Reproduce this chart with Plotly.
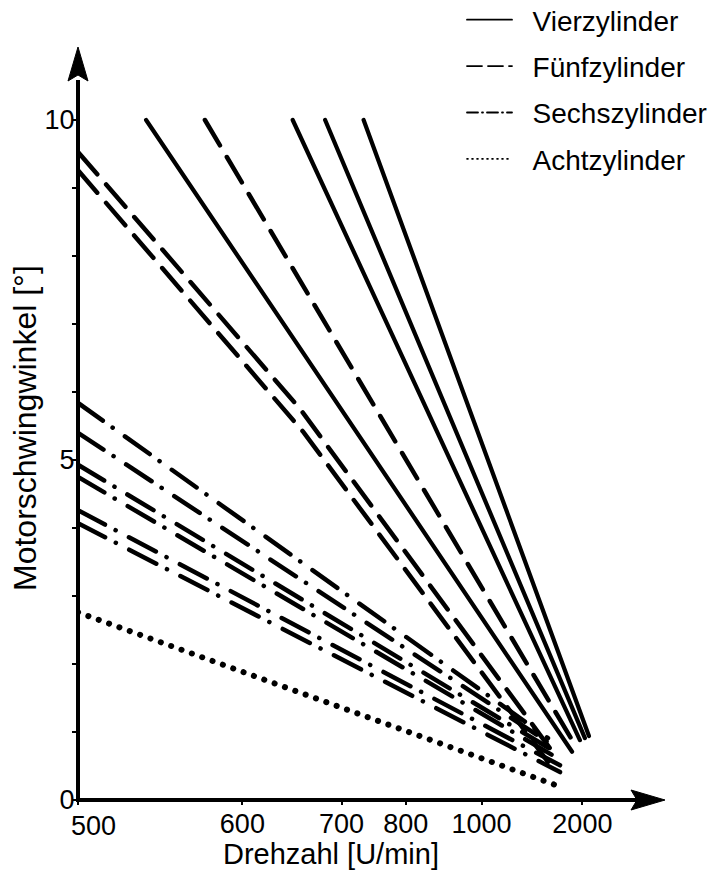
import plotly.graph_objects as go

# ---------------- data ----------------
tick_rpm = [500, 600, 700, 800, 1000, 2000]
tick_labels = ["", "600", "700", "800", "1000", "2000"]
first_tick_label = "500"
y_tick_vals = list(range(0, 11))
y_tick_labels = ["0", "", "", "", "", "5", "", "", "", "", "10"]

series_names = ["Vierzylinder", "Fünfzylinder", "Sechszylinder", "Achtzylinder"]

vier_rpm = [[535, 1750], [645, 1930], [680, 2080], [730, 2230]]
vier_deg = [[10.0, 0.71], [10.0, 0.88], [10.0, 0.91], [10.0, 0.94]]

fuenf_rpm = [[572, 1810], [500, 652, 1485], [500, 656, 1406]]
fuenf_deg = [[10.0, 0.81], [9.53, 5.76, 0.66], [9.26, 5.41, 0.56]]

sechs_rpm = [[500, 1406], [500, 1450], [500, 1485], [500, 1510], [500, 1550], [500, 1550]]
sechs_deg = [[5.84, 0.91], [5.40, 0.81], [4.93, 0.71], [4.75, 0.62], [4.26, 0.51], [4.07, 0.41]]

acht_rpm = [[500, 1593]]
acht_deg = [[2.76, 0.18]]

# ---------------- helpers ----------------
def xs(rpm_list):
    # the abscissa of the reference is linear in 1/n^2
    return [1e6 / (r * r) for r in rpm_list]

FONT = "Liberation Sans"
styles = {
    "Vierzylinder": dict(width=4.2, dash="solid"),
    "Fünfzylinder": dict(width=4.5, dash="29.5px,13.5px"),
    "Sechszylinder": dict(width=4.5, dash="30.5px,12px,0.1px,15px"),
    "Achtzylinder": dict(width=6, dash="0.1px,10.9px"),
}
legend_styles = {
    "Vierzylinder": dict(width=1.8, dash="solid"),
    "Fünfzylinder": dict(width=1.8, dash="15px,6px"),
    "Sechszylinder": dict(width=1.8, dash="11px,4px,1px,4px"),
    "Achtzylinder": dict(width=1.6, dash="1px,4px"),
}

fig = go.Figure()
all_series = [
    ("Vierzylinder", vier_rpm, vier_deg),
    ("Fünfzylinder", fuenf_rpm, fuenf_deg),
    ("Sechszylinder", sechs_rpm, sechs_deg),
    ("Achtzylinder", acht_rpm, acht_deg),
]
for name, rpms, degs in all_series:
    for r, d in zip(rpms, degs):
        fig.add_trace(go.Scatter(
            x=xs(r), y=d, mode="lines", showlegend=False, hoverinfo="skip",
            line=dict(color="black", **styles[name]),
        ))

NBSP = "\u00a0"
for name in series_names:
    fig.add_trace(go.Scatter(
        x=[None], y=[None], mode="lines", name=NBSP * 2 + name, legendgroup=name,
        line=dict(color="black", **legend_styles[name]),
    ))

W, H = 719, 887
L, T, B = 78, 60, 87
PLOT_RIGHT = 650
R = W - PLOT_RIGHT
pw, ph = W - L - R, H - T - B
px_per_u = 134.5
px_per_deg = 68.0
x_right = 4 - pw / px_per_u
y_top = ph / px_per_deg

shapes = [
    # x axis line + arrow head (tip at ~665 px)
    dict(type="line", xref="paper", yref="paper", x0=-2 / pw, x1=(640 - L) / pw, y0=0, y1=0,
         line=dict(color="black", width=4), layer="above"),
    dict(type="path", xref="paper", yref="paper", xsizemode="pixel", ysizemode="pixel",
         xanchor=1, yanchor=0, path="M15,0 L-19,10 L-13,0 L-19,-10 Z",
         fillcolor="black", line=dict(color="black", width=1), layer="above"),
    # y axis line + arrow head (tip at ~47 px)
    dict(type="line", xref="paper", yref="paper", x0=0, x1=0, y0=-2 / ph, y1=(800 - 80) / ph,
         line=dict(color="black", width=4), layer="above"),
    dict(type="path", xref="paper", yref="paper", xsizemode="pixel", ysizemode="pixel",
         xanchor=0, yanchor=1, path="M0,13 L-10,-21 L0,-15 L10,-21 Z",
         fillcolor="black", line=dict(color="black", width=1), layer="above"),
]

annotations = [
    dict(text="Drehzahl [U/min]", xref="paper", yref="paper",
         x=(331 - L) / pw, y=0, yshift=-(854 - 800), xanchor="center", yanchor="middle",
         showarrow=False, font=dict(family=FONT, size=29, color="black")),
    dict(text="Motorschwingwinkel [°]", xref="paper", yref="paper",
         x=0, xshift=-(L - 25), y=(800 - 428) / ph, xanchor="center", yanchor="middle",
         textangle=-90, showarrow=False, font=dict(family=FONT, size=32, color="black")),
    dict(text=first_tick_label, xref="x", yref="paper", x=xs([tick_rpm[0]])[0], xshift=15,
         y=0, yshift=-(826 - 800), xanchor="center", yanchor="middle",
         showarrow=False, font=dict(family=FONT, size=27, color="black")),
]

fig.update_layout(
    width=W, height=H,
    margin=dict(l=L, r=R, t=T, b=B, pad=0, autoexpand=False),
    paper_bgcolor="white", plot_bgcolor="white",
    font=dict(family=FONT, color="black"),
    xaxis=dict(range=[4, x_right], tickvals=xs(tick_rpm), ticktext=tick_labels,
               showgrid=False, zeroline=False, showline=False,
               ticks="outside", ticklen=4, tickwidth=1.5, tickcolor="black",
               ticklabelstandoff=-4,
               tickfont=dict(family=FONT, size=27, color="black")),
    yaxis=dict(range=[0, y_top], tickvals=y_tick_vals, ticktext=y_tick_labels,
               showgrid=False, zeroline=False, showline=False,
               ticks="outside", ticklen=5, tickwidth=2, tickcolor="black",
               ticklabelstandoff=-8,
               tickfont=dict(family=FONT, size=27, color="black")),
    legend=dict(x=(462 - L) / pw, xanchor="left", y=1 + (T + 5) / ph, yanchor="top",
                font=dict(family=FONT, size=28, color="black"),
                itemwidth=45, tracegroupgap=7, bgcolor="rgba(0,0,0,0)"),
    shapes=shapes, annotations=annotations,
)

post = """
var gd = document.getElementById('{plot_id}');
function rnd(){ document.querySelectorAll('.js-line').forEach(function(p){ p.style.strokeLinecap='round'; }); }
rnd();
if (gd && gd.on) { gd.on('plotly_afterplot', rnd); }
"""
fig.write_html("out.html", post_script=post, config={"displayModeBar": False})
